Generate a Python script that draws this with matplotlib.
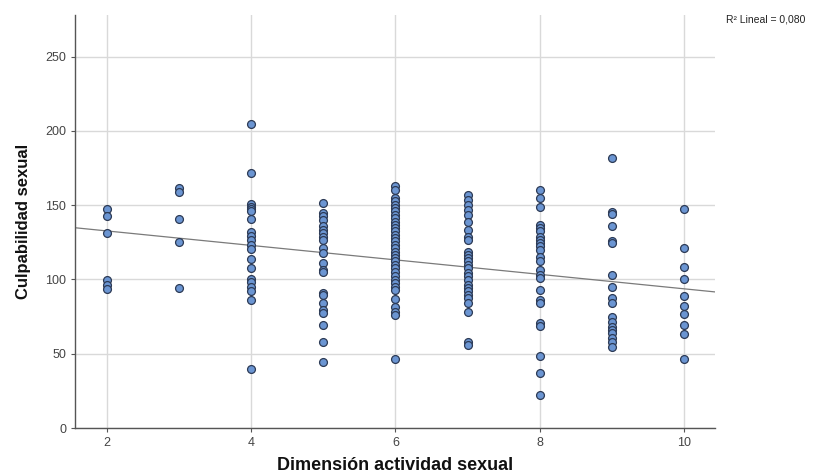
import matplotlib
matplotlib.use("Agg")
import matplotlib.pyplot as plt
import numpy as np

plt.rcParams['font.family'] = ['Liberation Sans', 'DejaVu Sans']

# Data: x category -> list of y values
x_levels = [2, 3, 4, 5, 6, 7, 8, 9, 10]
y_x2 = [147.6, 142.4, 131.6, 99.5, 96.1, 93.4]
y_x3 = [161.3, 158.6, 140.4, 125.3, 94.3]
y_x4 = [204.4, 171.4, 150.7, 149.1, 147.6, 146.4, 140.4, 131.9, 129.4, 126.7,
        123.1, 120.4, 113.7, 107.6, 100.4, 98.6, 95.2, 92.5, 86.3, 39.6]
y_x5 = [151.4, 144.7, 142.9, 140.2, 136.1, 133.4, 131.2, 128.9, 126.7, 121.1,
        117.7, 111.4, 106.5, 105.3, 91.2, 89.6, 84.0, 79.5, 77.3, 69.4, 57.7, 44.7]
y_x6 = [162.6, 160.4, 154.8, 152.5, 150.3, 148.0, 145.8, 143.5, 141.3, 139.0,
        136.8, 134.6, 132.3, 130.1, 127.8, 125.6, 123.3, 121.1, 118.8, 116.6,
        114.3, 112.1, 109.8, 107.6, 105.3, 102.0, 99.7, 97.5, 95.2, 93.0,
        86.7, 81.7, 78.4, 76.1, 46.5]
y_x7 = [157.0, 153.6, 150.3, 146.9, 143.5, 139.0, 133.4, 128.9, 126.7, 118.8,
        116.6, 114.3, 112.1, 109.8, 107.6, 104.2, 102.0, 99.7, 96.4, 94.1,
        91.9, 89.6, 87.4, 84.0, 78.4, 58.2, 55.9]
y_x8 = [159.9, 154.8, 149.1, 136.8, 134.6, 132.3, 128.9, 126.7, 124.5, 122.2,
        119.9, 115.4, 112.1, 106.5, 103.1, 100.9, 93.0, 86.3, 84.0, 70.6, 68.7,
        48.5, 36.9, 22.2]
y_x9 = [181.7, 145.1, 144.2, 136.3, 125.6, 124.5, 102.7, 94.8, 87.4, 84.0,
        75.0, 71.6, 68.3, 66.0, 63.8, 60.4, 58.2, 54.8]
y_x10 = [147.6, 121.5, 108.7, 100.6, 89.0, 82.4, 76.6, 69.4, 63.5, 46.5]
y_groups = [y_x2, y_x3, y_x4, y_x5, y_x6, y_x7, y_x8, y_x9, y_x10]

# Linear fit line
fit_intercept = 142.4
fit_slope = -4.87
r2_label = "R² Lineal = 0,080"

x_ticks = [2, 4, 6, 8, 10]
y_ticks = [0, 50, 100, 150, 200, 250]
x_label = "Dimensión actividad sexual"
y_label = "Culpabilidad sexual"

xs = np.concatenate([[x] * len(g) for x, g in zip(x_levels, y_groups)])
ys = np.concatenate(y_groups)

fig = plt.figure(figsize=(8.13, 4.76), dpi=100)
ax = fig.add_axes([0.0923, 0.1008, 0.7872, 0.8677])

ax.set_xlim(1.56, 10.43)
ax.set_ylim(0, 278)

ax.grid(True, color='#d9d9d9', linewidth=1.0, zorder=0)
ax.set_axisbelow(True)

xl = np.array(ax.get_xlim())
ax.plot(xl, fit_intercept + fit_slope * xl, color='#7a7a7a', linewidth=0.9, zorder=2)

ax.scatter(xs, ys, s=32, facecolor='#6b95d2', edgecolor='#2c3a55',
           linewidth=0.9, zorder=3)

ax.set_xticks(x_ticks)
ax.set_yticks(y_ticks)
ax.tick_params(axis='both', labelsize=9, colors='#555555', length=3, width=0.8)
for lab in ax.get_xticklabels() + ax.get_yticklabels():
    lab.set_color('#444444')

for s in ['top', 'right']:
    ax.spines[s].set_visible(False)
for s in ['left', 'bottom']:
    ax.spines[s].set_color('#555555')
    ax.spines[s].set_linewidth(1.0)

ax.set_xlabel(x_label, fontsize=13, fontweight='bold', labelpad=6, color='#111111')
ax.set_ylabel(y_label, fontsize=12, fontweight='bold', labelpad=10, color='#111111')

fig.text(0.893, 0.958, r2_label, fontsize=7.5, color='#222222', ha='left', va='center')

fig.savefig('out.png', dpi=100)
